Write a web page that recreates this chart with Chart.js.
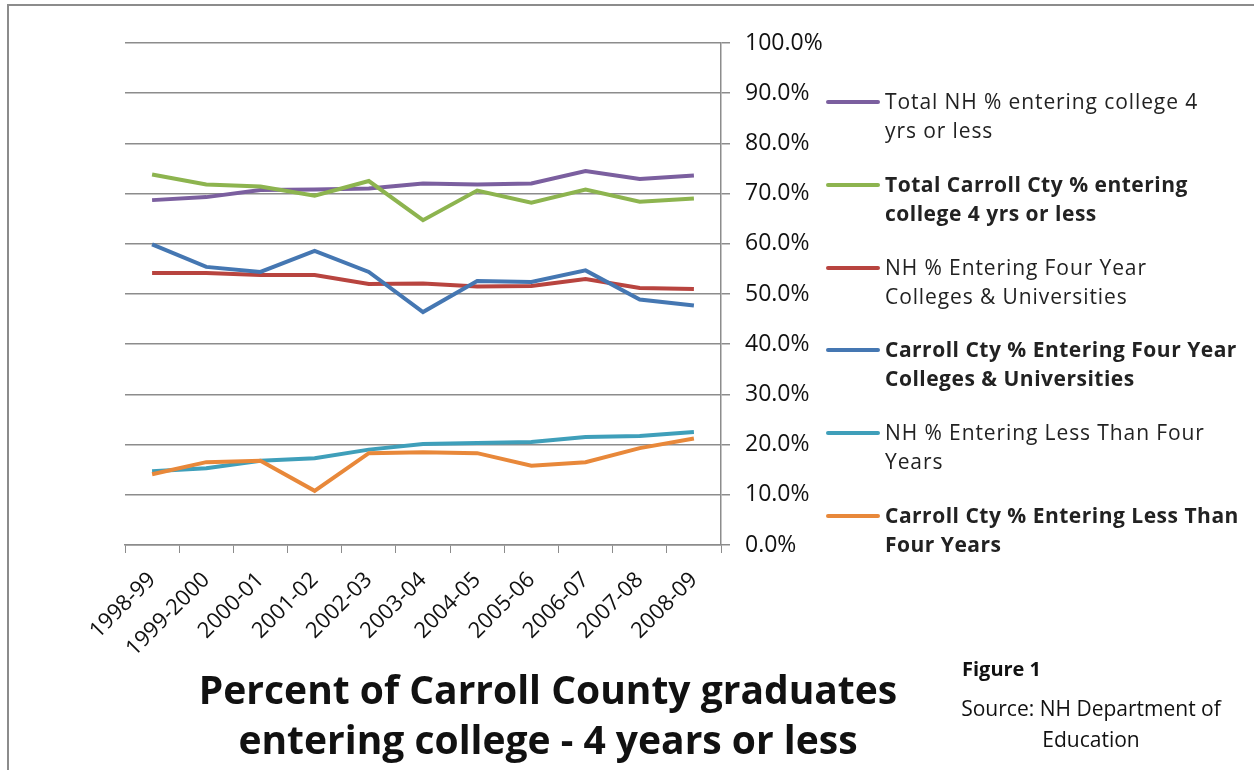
<!DOCTYPE html>
<html>
<head>
<meta charset="utf-8">
<script src="https://cdn.jsdelivr.net/npm/chart.js@4"></script>
<style>
  body { margin: 0; background: #fff; font-family: "Open Sans", sans-serif; }
  #wrap { position: relative; width: 1254px; height: 770px; overflow: hidden; }
  #frame { position: absolute; left: 7px; top: 4px; width: 1300px; height: 800px;
           border-top: 2px solid #8c8c8c; border-left: 2px solid #8c8c8c; }
  #chart { position: absolute; left: 0; top: 0; }
  .item { position: absolute; left: 826px; }
  .item .swatch { position: absolute; left: 0; top: 13px; width: 54px; height: 4px; border-radius: 2px; }
  .item .txt { position: absolute; left: 59px; top: 0; font-size: 21px; line-height: 29px; color: #222; white-space: nowrap; }
  #title { position: absolute; left: 100px; width: 896px; top: 664px; text-align: center;
           font-size: 39px; font-weight: 700; line-height: 50px; color: #111; }
  #fig { position: absolute; left: 962px; top: 655px; font-size: 20px; font-weight: 700; color: #111; }
  #src { position: absolute; left: 941px; width: 300px; top: 693px; text-align: center;
         font-size: 21px; line-height: 31px; color: #111; }
</style>
</head>
<body>
<div id="wrap">
  <div id="frame"></div>
  <canvas id="chart" width="900" height="665"></canvas>
  <div id="legend"></div>
  <div id="title">Percent of Carroll County graduates<br>entering college - 4 years or less</div>
  <div id="fig">Figure 1</div>
  <div id="src">Source: NH Department of<br>Education</div>
</div>
<script>
const years = ["1998-99", "1999-2000", "2000-01", "2001-02", "2002-03", "2003-04",
  "2004-05", "2005-06", "2006-07", "2007-08", "2008-09"];

const totalNH = [68.7, 69.3, 70.7, 70.8, 71.0, 72.0, 71.8, 72.0, 74.5, 72.9, 73.6];
const totalCarroll = [73.8, 71.8, 71.4, 69.6, 72.5, 64.7, 70.6, 68.2, 70.8, 68.4, 69.0];
const nhFourYear = [54.2, 54.2, 53.8, 53.8, 52.0, 52.1, 51.5, 51.6, 53.0, 51.2, 51.0];
const carrollFourYear = [59.9, 55.4, 54.4, 58.6, 54.4, 46.4, 52.6, 52.4, 54.7, 48.9, 47.7];
const nhLessFour = [14.7, 15.3, 16.8, 17.3, 19.0, 20.1, 20.3, 20.5, 21.5, 21.7, 22.5];
const carrollLessFour = [14.1, 16.5, 16.8, 10.8, 18.3, 18.5, 18.3, 15.8, 16.5, 19.3, 21.2];

const yTicks = [0, 10, 20, 30, 40, 50, 60, 70, 80, 90, 100];

const seriesLabels = [
  ["Total NH % entering college 4", "yrs or less"],
  ["Total Carroll Cty % entering", "college 4 yrs or less"],
  ["NH % Entering Four Year", "Colleges & Universities"],
  ["Carroll Cty % Entering Four Year", "Colleges & Universities"],
  ["NH % Entering Less Than Four", "Years"],
  ["Carroll Cty % Entering Less Than", "Four Years"]
];
const seriesData = [totalNH, totalCarroll, nhFourYear, carrollFourYear, nhLessFour, carrollLessFour];
const seriesColors = ["#7b5f9f", "#8db44f", "#b8443f", "#4577b2", "#3f9fba", "#e8883a"];
const seriesBold = [false, true, false, true, false, true];

const datasets = seriesData.map((d, i) => ({
  label: seriesLabels[i].join(" "),
  data: d,
  borderColor: seriesColors[i],
  backgroundColor: seriesColors[i],
  borderWidth: 4,
  pointRadius: 0,
  tension: 0,
  fill: false,
  order: seriesData.length - i
}));

const chart = new Chart(document.getElementById("chart"), {
  type: "line",
  data: { labels: years, datasets: datasets },
  options: {
    responsive: false,
    animation: false,
    devicePixelRatio: 1,
    layout: { padding: { left: 125, top: 43, right: 69, bottom: 5 } },
    plugins: { legend: { display: false }, tooltip: { enabled: false } },
    scales: {
      x: {
        offset: true,
        grid: { drawOnChartArea: false, drawTicks: true, tickLength: 8, color: "#8c8c8c", offset: true },
        border: { color: "#8c8c8c", width: 1.5 },
        ticks: {
          maxRotation: 45, minRotation: 45, autoSkip: false, padding: 14,
          color: "#111", font: { family: "Open Sans", size: 22 }
        },
        afterFit: s => { s.height = 115; }
      },
      y: {
        position: "right",
        min: 0, max: 100,
        afterBuildTicks: s => { s.ticks = yTicks.map(v => ({ value: v })); },
        grid: { color: "#8c8c8c", lineWidth: 1.5, tickLength: 9 },
        border: { color: "#8c8c8c", width: 1.5 },
        ticks: {
          padding: 15, color: "#111",
          font: { family: "Open Sans", size: 23 },
          callback: v => v.toFixed(1) + "%"
        },
        afterFit: s => { s.width = 110; }
      }
    }
  }
});

// legend built from the datasets
const legend = document.getElementById("legend");
seriesLabels.forEach((lines, i) => {
  const item = document.createElement("div");
  item.className = "item";
  item.style.top = (87 + i * 82.8) + "px";
  const sw = document.createElement("span");
  sw.className = "swatch";
  sw.style.background = seriesColors[i];
  const txt = document.createElement("div");
  txt.className = "txt";
  txt.style.fontWeight = seriesBold[i] ? "700" : "400";
  txt.style.letterSpacing = seriesBold[i] ? "0.5px" : "0.9px";
  txt.innerHTML = lines.join("<br>");
  item.appendChild(sw);
  item.appendChild(txt);
  legend.appendChild(item);
});
</script>
</body>
</html>
